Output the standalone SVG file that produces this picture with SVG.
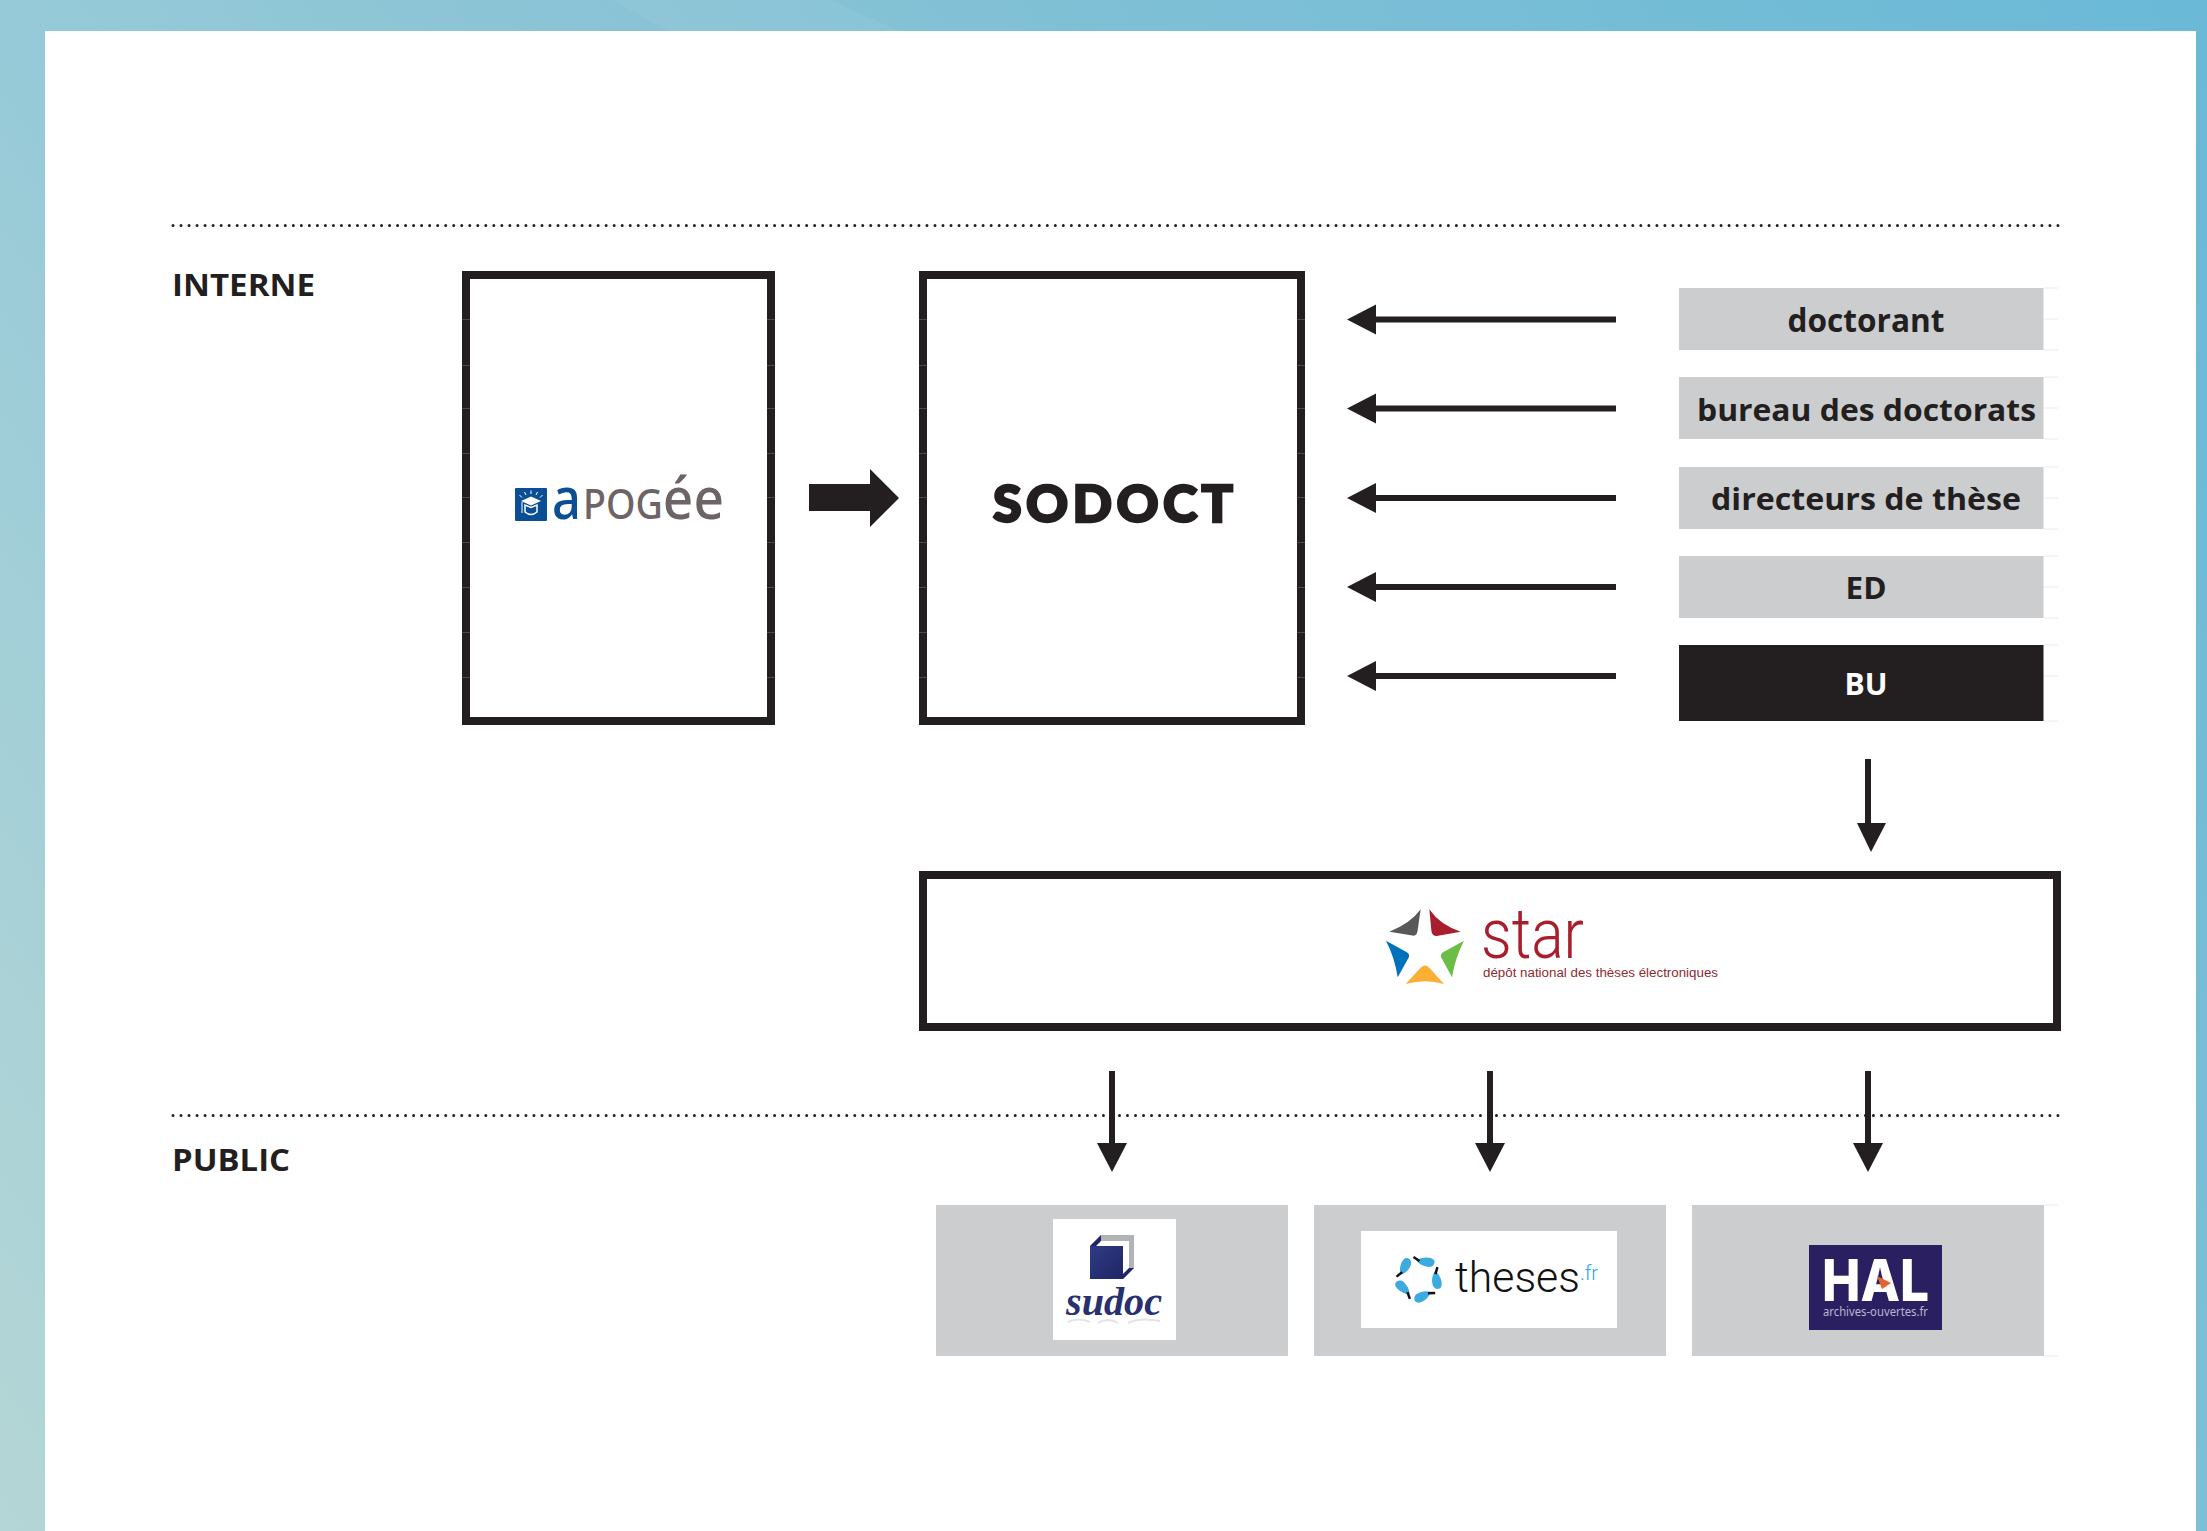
<svg xmlns="http://www.w3.org/2000/svg" width="2207" height="1531" viewBox="0 0 2207 1531">
<style>
.frame{fill:#fff;stroke:#231f20;stroke-width:8}
.chip{fill:#cccdcf}
.lab{font-family:"Open Sans","Noto Sans",sans-serif;font-weight:700;fill:#231f20;font-size:30px}
.mid{text-anchor:middle}
.dots{stroke:#231f20;stroke-width:3;stroke-linecap:round;stroke-dasharray:0 8.021;fill:none}
.conn{stroke:#231f20;stroke-width:6;fill:none}
.seam{stroke:#ececec;stroke-width:1;fill:none}
.notch{stroke:#4c494a;stroke-width:1;fill:none}
</style>
<defs>
<linearGradient id="bg" gradientUnits="userSpaceOnUse" x1="0" y1="1531" x2="2207" y2="0">
<stop offset="0" stop-color="#b5d6d6"/><stop offset=".325" stop-color="#96cad8"/><stop offset=".51" stop-color="#89c3d5"/><stop offset="1" stop-color="#69b9d7"/>
</linearGradient>
<linearGradient id="bk" x1="0" y1="0" x2="1" y2="1"><stop offset="0" stop-color="#2f3c86"/><stop offset="1" stop-color="#1f2565"/></linearGradient>
<marker id="head" markerUnits="userSpaceOnUse" markerWidth="30" markerHeight="32" refX="0" refY="15" orient="auto"><path d="M0 0L29 15L0 30Z" fill="#231f20"/></marker>
</defs>
<rect id="background" width="2207" height="1531" fill="url(#bg)"/>
<polygon points="612,0 668,31 900,31 830,0" fill="#fff" opacity=".05"/>
<rect id="panel" x="45" y="31" width="2151" height="1500" fill="#fff"/>

<path class="dots" d="M173 225.500H2058M173 1115.500H2058"/>
<path class="seam" d="M2044 288H2058M2044 319H2058M2044 350H2058M2044 377H2058M2044 408H2058M2044 439H2058M2044 467H2058M2044 498H2058M2044 529H2058M2044 556H2058M2044 587H2058M2044 618H2058M2044 645H2058M2044 676H2058M2044 721H2058M2044 1205H2058M2044 1356H2058"/>

<g id="label-interne"><text class="lab" x="172" y="296" textLength="143" lengthAdjust="spacingAndGlyphs">INTERNE</text></g>
<g id="label-public"><text class="lab" x="172" y="1171" textLength="118" lengthAdjust="spacingAndGlyphs">PUBLIC</text></g>

<g id="node-apogee">
<rect class="frame" x="466" y="275" width="305" height="446"/>
<rect x="515" y="488" width="32" height="33" rx="1" fill="#0a4f96"/>
<path d="M521 501L531 496.500L541 501L531 505.500Z" fill="#fff"/>
<path d="M525 505V512Q531 517 537 512V505L531 507.500Z" fill="none" stroke="#fff" stroke-width="1.500"/>
<path d="M531 490.500V494M524.500 492L526 495M537.500 492L536 495M519.500 495L522 497.500M542.500 495L540 497.500M522 502V513" stroke="#fff" stroke-width="1" fill="none"/>
<text x="552" y="519" font-family="'Noto Sans',sans-serif" font-weight="500" font-size="58" fill="#0a4f96" textLength="29" lengthAdjust="spacingAndGlyphs">a</text>
<text x="583" y="519" font-family="'Noto Sans',sans-serif" font-weight="500" font-size="41" fill="#6f6465" textLength="141" lengthAdjust="spacingAndGlyphs">POG<tspan font-size="58">ée</tspan></text>
</g>

<g id="node-sodoct">
<rect class="frame" x="923" y="275" width="378" height="446"/>
<text x="993" y="522" font-family="Lato,Inter,sans-serif" font-weight="900" font-size="52" fill="#231f20" stroke="#231f20" stroke-width="2.500" textLength="240">SODOCT</text>
</g>
<path class="notch" d="M462 319.500H470M767 319.500H775M919 319.500H927M1297 319.500H1305M462 365.500H470M767 365.500H775M919 365.500H927M1297 365.500H1305M462 408.500H470M767 408.500H775M919 408.500H927M1297 408.500H1305M462 453.500H470M767 453.500H775M919 453.500H927M1297 453.500H1305M462 497.500H470M767 497.500H775M919 497.500H927M1297 497.500H1305M462 542.500H470M767 542.500H775M919 542.500H927M1297 542.500H1305M462 587.500H470M767 587.500H775M919 587.500H927M1297 587.500H1305M462 632.500H470M767 632.500H775M919 632.500H927M1297 632.500H1305M462 677.500H470M767 677.500H775M919 677.500H927M1297 677.500H1305"/>

<g id="node-doctorant"><rect class="chip" x="1679" y="288" width="364.500" height="62"/><text class="lab mid" x="1866" y="332" style="font-size:32px" textLength="157" lengthAdjust="spacingAndGlyphs">doctorant</text></g>
<g id="node-bureau"><rect class="chip" x="1679" y="377" width="364.500" height="62"/><text class="lab mid" x="1866.500" y="421" textLength="339" lengthAdjust="spacingAndGlyphs">bureau des doctorats</text></g>
<g id="node-directeurs"><rect class="chip" x="1679" y="467" width="364.500" height="62"/><text class="lab mid" x="1866" y="510" textLength="310" lengthAdjust="spacingAndGlyphs">directeurs de thèse</text></g>
<g id="node-ed"><rect class="chip" x="1679" y="556" width="364.500" height="62"/><text class="lab mid" x="1866" y="599" textLength="41" lengthAdjust="spacingAndGlyphs">ED</text></g>
<g id="node-bu"><rect x="1679" y="645" width="364.500" height="76" fill="#231f20"/><text class="lab mid" x="1866" y="695" style="fill:#fff" textLength="43" lengthAdjust="spacingAndGlyphs">BU</text></g>

<g id="node-star">
<rect class="frame" x="923" y="875" width="1134" height="152"/>
<g transform="translate(1340 880) scale(.33333)">
<path d="M242 88Q212 130 148 155L222 167Q232 165 233 150Z" fill="#58595b"/>
<path d="M268 88Q300 135 362 155L290 168Q275 168 274 150Z" fill="#a91e2d"/>
<path d="M372 182Q345 235 336 292L305 235Q298 222 312 215Z" fill="#6abd45"/>
<path d="M138 182Q165 235 173 292L205 235Q212 222 198 215Z" fill="#0072bc"/>
<path d="M197 312Q255 295 312 312L268 263Q255 250 242 263Z" fill="#fbb034"/>
</g>
<text x="1481" y="958" font-family="Roboto,'Liberation Sans',sans-serif" font-weight="300" font-size="70" fill="#a91e2d" textLength="103" lengthAdjust="spacingAndGlyphs">star</text>
<text x="1483" y="977" font-family="'Liberation Sans',sans-serif" font-size="12" fill="#8f2a2f" textLength="235" lengthAdjust="spacingAndGlyphs">dépôt national des thèses électroniques</text>
</g>

<g id="node-sudoc">
<rect class="chip" x="936" y="1205" width="352" height="151"/>
<rect x="1053" y="1219" width="123" height="121" fill="#fff"/>
<path d="M1101 1235H1134V1268L1123 1279V1246H1090Z" fill="#b1b3b6"/>
<path d="M1096 1241H1129V1268L1123 1279V1246H1090Z" fill="#fff"/>
<path d="M1090 1246L1101 1235V1241L1096 1246ZM1123 1279L1134 1268L1129 1268L1123 1274Z" fill="#1f2565"/>
<rect x="1090" y="1246" width="33" height="33" fill="url(#bk)"/>
<text x="1066" y="1315" font-family="'Liberation Serif',serif" font-style="italic" font-weight="700" font-size="40" fill="#28306f" textLength="96" lengthAdjust="spacingAndGlyphs">sudoc</text>
<path d="M1068 1322Q1078 1317 1090 1322M1098 1323Q1108 1317 1118 1323M1128 1323Q1140 1317 1160 1321" fill="none" stroke="#e2e3e8" stroke-width="2"/>
</g>

<g id="node-theses">
<rect class="chip" x="1314" y="1205" width="352" height="151"/>
<rect x="1361" y="1231" width="256" height="97" fill="#fff"/>
<g transform="translate(1418.500 1278.500)">
<g id="blob"><path d="M-2 -18C2 -21.500 12 -22.500 15.500 -18.500C17.500 -15 14 -11 10 -11.500C5 -12 1 -14 -2 -18Z" fill="#3cace0"/><path d="M-5 -21.500L1 -17.500" stroke="#111" stroke-width="2.500"/></g>
<use href="#blob" transform="rotate(72)"/><use href="#blob" transform="rotate(144)"/><use href="#blob" transform="rotate(216)"/><use href="#blob" transform="rotate(288)"/>
</g>
<text x="1455" y="1292" font-family="Roboto,'Liberation Sans',sans-serif" font-weight="300" font-size="43" fill="#111" textLength="143" lengthAdjust="spacingAndGlyphs">theses<tspan font-size="20" dy="-12" fill="#2aa7df">.fr</tspan></text>
</g>

<g id="node-hal">
<rect class="chip" x="1692" y="1205" width="352" height="151"/>
<rect x="1809" y="1245" width="133" height="85" fill="#2a2061"/>
<text x="1822" y="1301" font-family="Inter,'Liberation Sans',sans-serif" font-weight="800" font-size="58" fill="#fff" textLength="107" lengthAdjust="spacingAndGlyphs">HAL</text>
<polygon points="1877,1276 1891,1283 1882,1289" fill="#e8622c"/>
<text x="1823" y="1316" font-family="'Noto Sans',sans-serif" font-size="12" fill="#b9b6cf" textLength="105" lengthAdjust="spacingAndGlyphs">archives-ouvertes.fr</text>
</g>

<g id="connectors">
<path d="M809 484H870V469L899 498L870 527V511H809Z" fill="#231f20"/>
<line class="conn" x1="1616" y1="319.500" x2="1376" y2="319.500" marker-end="url(#head)"/>
<line class="conn" x1="1616" y1="408.500" x2="1376" y2="408.500" marker-end="url(#head)"/>
<line class="conn" x1="1616" y1="498" x2="1376" y2="498" marker-end="url(#head)"/>
<line class="conn" x1="1616" y1="587" x2="1376" y2="587" marker-end="url(#head)"/>
<line class="conn" x1="1616" y1="676" x2="1376" y2="676" marker-end="url(#head)"/>
<line class="conn" x1="1868" y1="759" x2="1868" y2="825"/>
<polygon points="1857,823 1886,823 1871,852" fill="#231f20"/>
<line class="conn" x1="1112" y1="1071" x2="1112" y2="1143" marker-end="url(#head)"/>
<line class="conn" x1="1490" y1="1071" x2="1490" y2="1143" marker-end="url(#head)"/>
<line class="conn" x1="1868" y1="1071" x2="1868" y2="1143" marker-end="url(#head)"/>
</g>
</svg>
